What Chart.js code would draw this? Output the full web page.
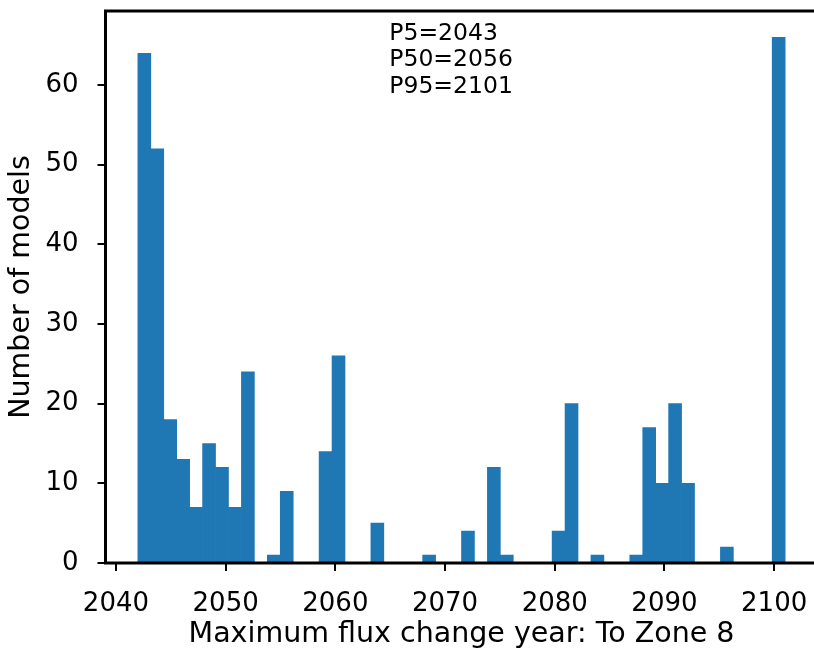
<!DOCTYPE html>
<html>
<head>
<meta charset="utf-8">
<script src="https://cdn.jsdelivr.net/npm/chart.js@4"></script>
<style>
    html, body { margin: 0; padding: 0; background: #fff; overflow: hidden; }
    #wrap { width: 820px; height: 649px; }
</style>
</head>
<body>
<div id="wrap"><canvas id="histChart" width="820" height="649"></canvas></div>
<script>
// Histogram bins: 50 bins from 2042 to 2101
const binStart = 2042;
const binWidth = 1.18;
const binCounts = [
    64, 52, 18, 13, 7, 15, 12, 7, 24, 0,
    1, 9, 0, 0, 14, 26, 0, 0, 5, 0,
    0, 0, 1, 0, 0, 4, 0, 12, 1, 0,
    0, 0, 4, 20, 0, 1, 0, 0, 1, 17,
    10, 20, 10, 0, 0, 2, 0, 0, 0, 66
];
const xTicks = [2040, 2050, 2060, 2070, 2080, 2090, 2100];
const yTicks = [0, 10, 20, 30, 40, 50, 60];
const percentileLines = ['P5=2043', 'P50=2056', 'P95=2101'];

const FONT = 'DejaVu Sans';
const barColor = '#1f77b4';

// frame around the plot area plus the percentile text block
const framePlugin = {
    id: 'frame',
    afterDraw(chart) {
        const { ctx, chartArea: a } = chart;
        ctx.save();
        ctx.strokeStyle = '#000';
        ctx.lineWidth = 3;
        ctx.strokeRect(a.left, a.top, a.right - a.left, a.bottom - a.top);

        ctx.fillStyle = '#000';
        ctx.font = `23.5px "${FONT}"`;
        ctx.textAlign = 'left';
        ctx.textBaseline = 'alphabetic';
        const x = a.left + 0.4 * (a.right - a.left) - 1;
        percentileLines.forEach((t, i) => ctx.fillText(t, x, 40 + i * 26.3));
        ctx.restore();
    }
};

// keep tick labels from pushing the plot area inward
function noLabelPadding(s) {
    s.paddingTop = 0;
    s.paddingBottom = 0;
    s.paddingLeft = 0;
    s.paddingRight = 0;
}

document.addEventListener('DOMContentLoaded', function() {
    const ctx = document.getElementById('histChart');

    const points = binCounts.map((c, i) => ({ x: binStart + binWidth * (i + 0.5), y: c }));

    new Chart(ctx, {
        type: 'bar',
        data: {
            datasets: [{
                label: 'Number of models',
                data: points,
                backgroundColor: barColor,
                borderWidth: 0,
                barPercentage: 1,
                categoryPercentage: 1
            }]
        },
        options: {
            responsive: false,
            animation: false,
            layout: { padding: { top: 11, right: 2.5, left: 0, bottom: 0 } },
            plugins: { legend: { display: false }, tooltip: { enabled: false } },
            scales: {
                x: {
                    type: 'linear',
                    offset: false,
                    min: 2039.05,
                    max: 2103.95,
                    afterBuildTicks: s => { s.ticks = xTicks.map(v => ({ value: v })); },
                    afterFit: s => { s.height = 86; noLabelPadding(s); },
                    grid: { display: true, drawOnChartArea: false, drawTicks: true, tickLength: 8, lineWidth: 2, color: '#000', offset: false },
                    border: { display: false },
                    ticks: { color: '#000', font: { family: FONT, size: 26 }, padding: 18, maxRotation: 0, autoSkip: false, callback: v => String(v) },
                    title: { display: true, text: 'Maximum flux change year: To Zone 8', color: '#000', font: { family: FONT, size: 28.5, lineHeight: 1 }, padding: { top: 0, bottom: 0 } }
                },
                y: {
                    min: 0,
                    max: 69.3,
                    afterBuildTicks: s => { s.ticks = yTicks.map(v => ({ value: v })); },
                    afterFit: s => { s.width = 105.5; noLabelPadding(s); },
                    grid: { display: true, drawOnChartArea: false, drawTicks: true, tickLength: 8, lineWidth: 2, color: '#000' },
                    border: { display: false },
                    ticks: { color: '#000', font: { family: FONT, size: 26 }, padding: 19, callback: v => String(v) },
                    title: { display: true, text: 'Number of models', color: '#000', font: { family: FONT, size: 28.5, lineHeight: 1 }, padding: { top: 7.5, bottom: 0 } }
                }
            }
        },
        plugins: [framePlugin]
    });
});
</script>
</body>
</html>
